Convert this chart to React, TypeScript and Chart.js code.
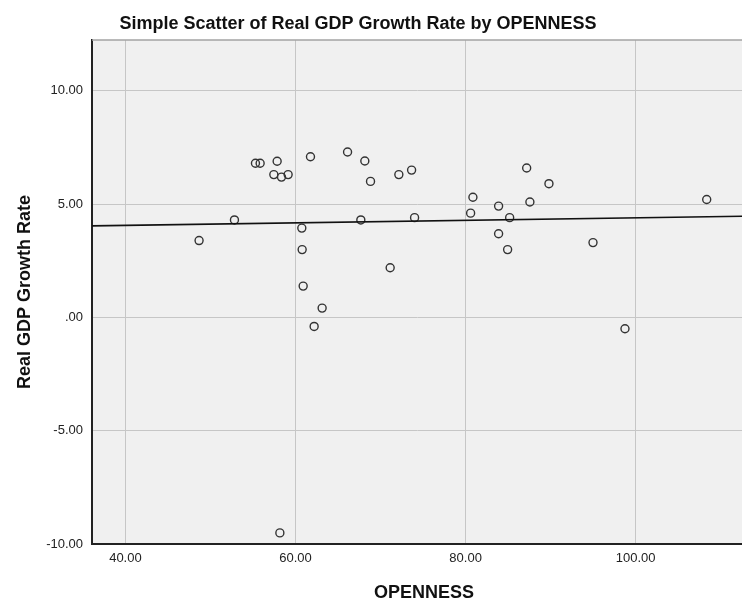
import React, { useEffect, useRef } from "react";
import { Chart, registerables } from "chart.js";

Chart.register(...registerables);

// Trade openness (% of GDP) for each country
const openness = [
  55.29, 55.84, 57.84, 57.45, 58.35, 59.13, 61.76, 52.82, 60.74, 66.12,
  68.15, 68.82, 72.15, 73.65, 80.86, 83.88, 87.18, 89.8, 87.56, 67.68,
  74.0, 80.59, 85.18, 108.35, 48.66, 60.78, 60.9, 63.13, 62.19, 71.13,
  83.88, 84.94, 94.98, 98.74, 58.16,
];

// Real GDP growth rate (%) for the same countries
const gdpGrowth = [
  6.8, 6.8, 6.89, 6.3, 6.19, 6.3, 7.09, 4.3, 3.94, 7.3,
  6.9, 6.0, 6.3, 6.5, 5.3, 4.91, 6.59, 5.9, 5.09, 4.3,
  4.4, 4.6, 4.4, 5.2, 3.39, 2.99, 1.38, 0.41, -0.4, 2.19,
  3.69, 2.99, 3.3, -0.5, -9.51,
];

const xTicks = [40, 60, 80, 100];
const yTicks = [-10, -5, 0, 5, 10];
const xRange = [36.07, 112.5];
const yRange = [-10, 12.24];

const chartTitle = "Simple Scatter of Real GDP Growth Rate by OPENNESS";
const xTitle = "OPENNESS";
const yTitle = "Real GDP Growth Rate";

const FONT = "'Liberation Sans', Arial, sans-serif";

// Ordinary least squares fit of growth on openness
function linearFit(xs: number[], ys: number[]) {
  const n = xs.length;
  const mx = xs.reduce((s, v) => s + v, 0) / n;
  const my = ys.reduce((s, v) => s + v, 0) / n;
  let sxy = 0;
  let sxx = 0;
  for (let i = 0; i < n; i++) {
    sxy += (xs[i] - mx) * (ys[i] - my);
    sxx += (xs[i] - mx) * (xs[i] - mx);
  }
  const slope = sxy / sxx;
  return { slope, intercept: my - slope * mx };
}

// SPSS-style number labels: 10.00, .00, -5.00
function fmt(v: number) {
  const s = Math.abs(v).toFixed(2).replace(/^0(?=\.)/, "");
  return (v < 0 ? "-" : "") + s;
}

const framePlugin = {
  id: "frame",
  beforeDraw(chart: any) {
    const { ctx, chartArea: a } = chart;
    ctx.save();
    ctx.fillStyle = "#f0f0f0";
    ctx.fillRect(a.left, a.top, a.right - a.left, a.bottom - a.top);
    ctx.restore();
  },
  afterDraw(chart: any) {
    const { ctx, chartArea: a } = chart;
    ctx.save();
    // top border of the plot frame
    ctx.strokeStyle = "#a3a3a3";
    ctx.lineWidth = 1.5;
    ctx.beginPath();
    ctx.moveTo(a.left, a.top);
    ctx.lineTo(a.right, a.top);
    ctx.stroke();

    ctx.fillStyle = "#111";
    ctx.textAlign = "center";
    ctx.textBaseline = "middle";
    ctx.font = `bold 18px ${FONT}`;
    ctx.fillText(chartTitle, 358, 24);

    ctx.font = `bold 18px ${FONT}`;
    ctx.fillText(xTitle, 424, 593);

    ctx.translate(25, 292);
    ctx.rotate(-Math.PI / 2);
    ctx.font = `bold 18px ${FONT}`;
    ctx.fillText(yTitle, 0, 0);
    ctx.restore();
  },
};

export default function App() {
  const canvasRef = useRef<HTMLCanvasElement | null>(null);

  useEffect(() => {
    const canvas = canvasRef.current;
    if (!canvas) return;

    const { slope, intercept } = linearFit(openness, gdpGrowth);
    const points = openness.map((x, i) => ({ x, y: gdpGrowth[i] }));
    const fitLine = xRange.map((x) => ({ x, y: intercept + slope * x }));

    const chart = new Chart(canvas, {
      type: "scatter",
      data: {
        datasets: [
          {
            type: "line",
            data: fitLine,
            borderColor: "#111",
            borderWidth: 1.6,
            pointRadius: 0,
            fill: false,
          } as any,
          {
            data: points,
            pointStyle: "circle",
            pointRadius: 4,
            pointBorderWidth: 1.4,
            pointBorderColor: "#333",
            pointBackgroundColor: "rgba(0,0,0,0)",
          },
        ],
      },
      options: {
        responsive: false,
        animation: false,
        layout: { autoPadding: false, padding: { top: 40, left: 0, right: 0, bottom: 0 } },
        plugins: {
          legend: { display: false },
          tooltip: { enabled: false },
          title: { display: false },
        },
        scales: {
          x: {
            type: "linear",
            min: xRange[0],
            max: xRange[1],
            afterBuildTicks: (scale: any) => {
              scale.ticks = xTicks.map((value) => ({ value }));
            },
            afterFit: (scale: any) => {
              scale.height = 58;
            },
            grid: { color: "#c6c6c6", lineWidth: 1, drawTicks: false },
            border: { display: true, color: "#222", width: 2 },
            ticks: {
              padding: 7,
              color: "#222",
              font: { family: FONT, size: 13 },
              callback: (v: any) => fmt(Number(v)),
              maxRotation: 0,
            },
          },
          y: {
            type: "linear",
            min: yRange[0],
            max: yRange[1],
            afterBuildTicks: (scale: any) => {
              scale.ticks = yTicks.map((value) => ({ value }));
            },
            afterFit: (scale: any) => {
              scale.width = 92;
            },
            grid: { color: "#c6c6c6", lineWidth: 1, drawTicks: false },
            border: { display: true, color: "#222", width: 2 },
            ticks: {
              padding: 9,
              color: "#222",
              font: { family: FONT, size: 13 },
              callback: (v: any) => fmt(Number(v)),
            },
          },
        },
      },
      plugins: [framePlugin],
    });

    return () => chart.destroy();
  }, []);

  return (
    <div style={{ position: "fixed", left: 0, top: 0, width: 742, height: 602, background: "#fff" }}>
      <canvas ref={canvasRef} width={742} height={602} />
    </div>
  );
}
